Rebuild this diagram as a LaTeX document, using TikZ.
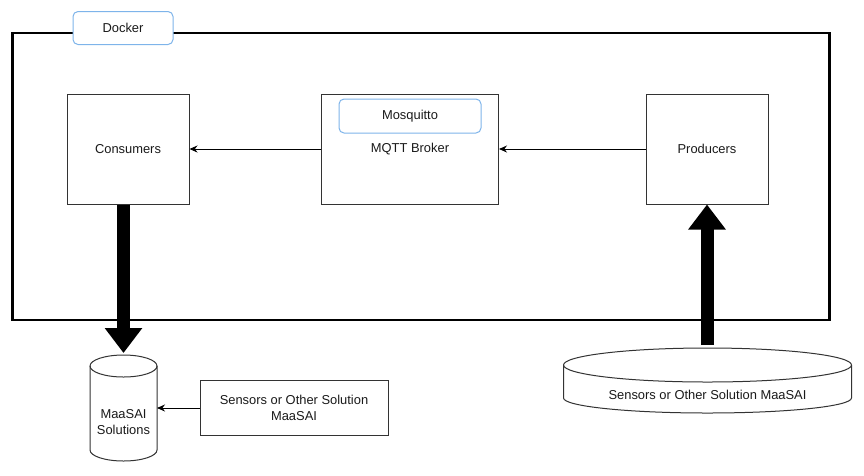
\documentclass[tikz,border=0pt]{standalone}
\usepackage{fontspec}
\setmainfont{Liberation Sans}
\usetikzlibrary{arrows.meta}
\definecolor{lblblue}{HTML}{7EB4EA}
\definecolor{boxline}{HTML}{333333}
\definecolor{txt}{HTML}{1A1A1A}
\begin{document}
\begin{tikzpicture}[x=1pt,y=1pt,
  every node/.style={font=\fontsize{12.9}{15}\selectfont, text=txt},
  plainbox/.style={draw=boxline, line width=1pt, fill=white, inner sep=0pt},
  tagbox/.style={draw=lblblue, line width=1pt, fill=white, rounded corners=5pt, inner sep=0pt},
  thinarrow/.style={draw=black, line width=1pt, -{Stealth[length=8pt,width=7pt]}},
  fatarrow/.style={draw=black, line width=13pt, -{Triangle[length=25pt,width=36pt]}},
  shapeline/.style={draw=boxline, line width=1pt}]
\useasboundingbox (0,0) rectangle (864,-475);

% Docker container
\draw[line width=2.8pt, black] (12.5,-33) rectangle (829.5,-320);
\node[tagbox, minimum width=100pt, minimum height=33pt] (docker) at (123,-28) {Docker};

% inner boxes
\node[plainbox, minimum width=122pt, minimum height=110pt] (cons) at (128,-149) {Consumers};
\node[plainbox, minimum width=177pt, minimum height=110pt] (broker) at (410,-149) {MQTT Broker};
\node[tagbox, minimum width=142pt, minimum height=34pt] (mosq) at (410,-116) {Mosquitto};
\node[plainbox, minimum width=122pt, minimum height=110pt] (prod) at (707,-149) {Producers};

\draw[thinarrow] (broker.west) -- (cons.east);
\draw[thinarrow] (prod.west) -- (broker.east);

% MaaSAI cylinder
\draw[shapeline, fill=white] (90,-366) -- (90,-450) arc[start angle=180, end angle=360, x radius=33.5pt, y radius=11pt] -- (157,-366) arc[start angle=0, end angle=180, x radius=33.5pt, y radius=11pt];
\draw[shapeline] (90,-366) arc[start angle=180, end angle=360, x radius=33.5pt, y radius=11pt];
\coordinate (cyltop) at (123.5,-353);
\coordinate (cylright) at (157,-408);
\node[align=center, inner sep=0pt] (cyl) at (123.5,-422) {MaaSAI\\[1pt]Solutions};

% sensors box
\node[plainbox, minimum width=188pt, minimum height=55pt, align=center] (sens) at (294,-408) {Sensors or Other Solution\\[1pt]MaaSAI};
\draw[thinarrow] (sens.west) -- (cylright);

% disk
\draw[shapeline, fill=white] (563.5,-365) -- (563.5,-398) arc[start angle=180, end angle=360, x radius=144pt, y radius=15pt] -- (851.5,-365) arc[start angle=0, end angle=180, x radius=144pt, y radius=17pt];
\draw[shapeline] (563.5,-365) arc[start angle=180, end angle=360, x radius=144pt, y radius=17pt];
\coordinate (disktop) at (707,-345);
\node[inner sep=0pt] (disk) at (707.5,-395) {Sensors or Other Solution MaaSAI};

% fat arrows
\draw[fatarrow] (cons.south -| cyltop) -- (cyltop);
\draw[fatarrow] (disktop) -- (prod.south);
\end{tikzpicture}
\end{document}
